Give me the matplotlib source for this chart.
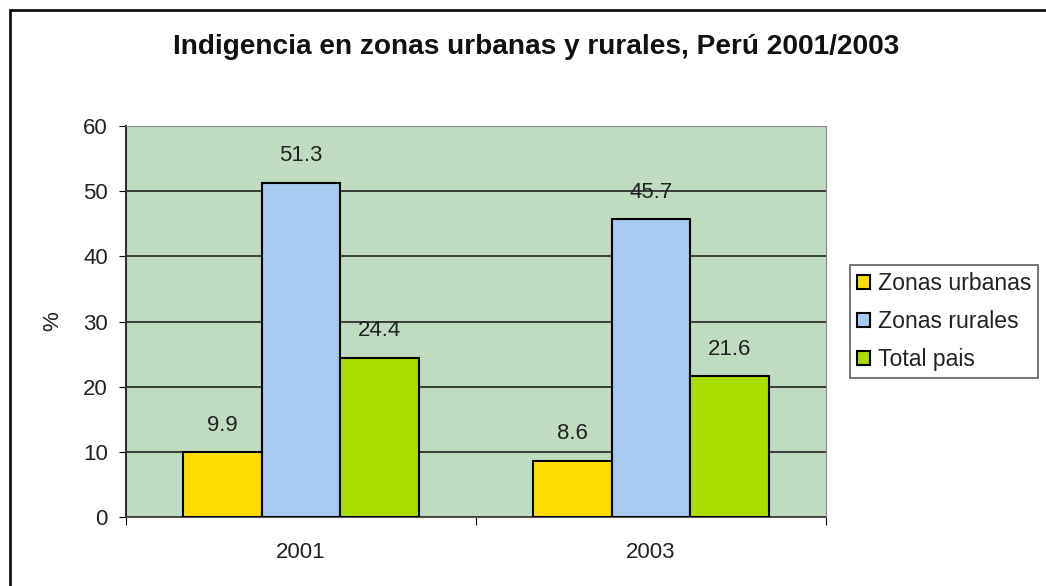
import matplotlib
matplotlib.use('Agg')
import matplotlib.pyplot as plt
from matplotlib.patches import Rectangle
import numpy as np

years = ['2001', '2003']
series = ['Zonas urbanas', 'Zonas rurales', 'Total pais']
urbanas = [9.9, 8.6]
rurales = [51.3, 45.7]
total = [24.4, 21.6]
colors = ['#FFDD00', '#A6CAF0', '#AADD00']

plt.rcParams['font.family'] = ['Liberation Sans', 'DejaVu Sans']

fig = plt.figure(figsize=(10.46, 5.86), dpi=100)
ax = fig.add_axes([126 / 1046, 69 / 586, 700 / 1046, 391 / 586])
ax.set_facecolor('#C0DCC0')

# marco exterior del gráfico
fig.patches.append(Rectangle((10 / 1046, -0.1), 1.2, (576 / 586) + 0.1,
                             transform=fig.transFigure, fill=False,
                             edgecolor='#111111', linewidth=2))

x = np.arange(len(years))
w = 0.224
for i, (vals, c) in enumerate(zip([urbanas, rurales, total], colors)):
    bars = ax.bar(x + (i - 1) * w, vals, w, color=c, edgecolor='black',
                  linewidth=1.5, label=series[i], zorder=3)
    for b, v in zip(bars, vals):
        ax.annotate(f'{v}', (b.get_x() + b.get_width() / 2, v),
                    xytext=(0, 12), textcoords='offset points',
                    ha='center', va='bottom', fontsize=16, color='#222222')

ax.set_xlim(-0.5, 1.5)
ax.set_ylim(0, 60)
ax.set_yticks(range(0, 61, 10))
ax.yaxis.grid(True, color='#222222', linewidth=1.2, zorder=0)
ax.set_axisbelow(True)
ax.set_xticks([-0.5, 0.5, 1.5], minor=False)
ax.set_xticklabels([])
ax.set_xticks(x, minor=True)
ax.set_xticklabels(years, minor=True)
ax.tick_params(axis='x', which='minor', length=0, pad=18, labelsize=16,
               labelcolor='#222222')
ax.tick_params(axis='x', which='major', length=6, direction='out')
ax.tick_params(axis='y', length=5, direction='out', labelsize=16, pad=8,
               labelcolor='#222222')
ax.set_ylabel('%', fontsize=16, color='#222222')
ax.yaxis.set_label_coords(-0.09, 0.5)
for s in ['top', 'right']:
    ax.spines[s].set_color('#888888')
ax.spines['left'].set_color('#3a2a3a')
ax.spines['left'].set_linewidth(1.5)
ax.spines['bottom'].set_color('#555555')

fig.text(536 / 1046, 1 - 47 / 586,
         'Indigencia en zonas urbanas y rurales, Perú 2001/2003',
         fontsize=20.2, fontweight='bold', ha='center', va='center', color='#111111')

leg = fig.legend(loc='upper left', bbox_to_anchor=(850 / 1046, 1 - 265 / 586),
                 fontsize=16.6, frameon=True, fancybox=False, shadow=False,
                 handlelength=0.55, handleheight=0.55, handletextpad=0.35,
                 borderpad=0.3, labelspacing=0.65, borderaxespad=0,
                 labelcolor='#222222')
leg.get_frame().set_edgecolor('#333333')
leg.get_frame().set_linewidth(1.2)

fig.savefig('out.png', dpi=100)
